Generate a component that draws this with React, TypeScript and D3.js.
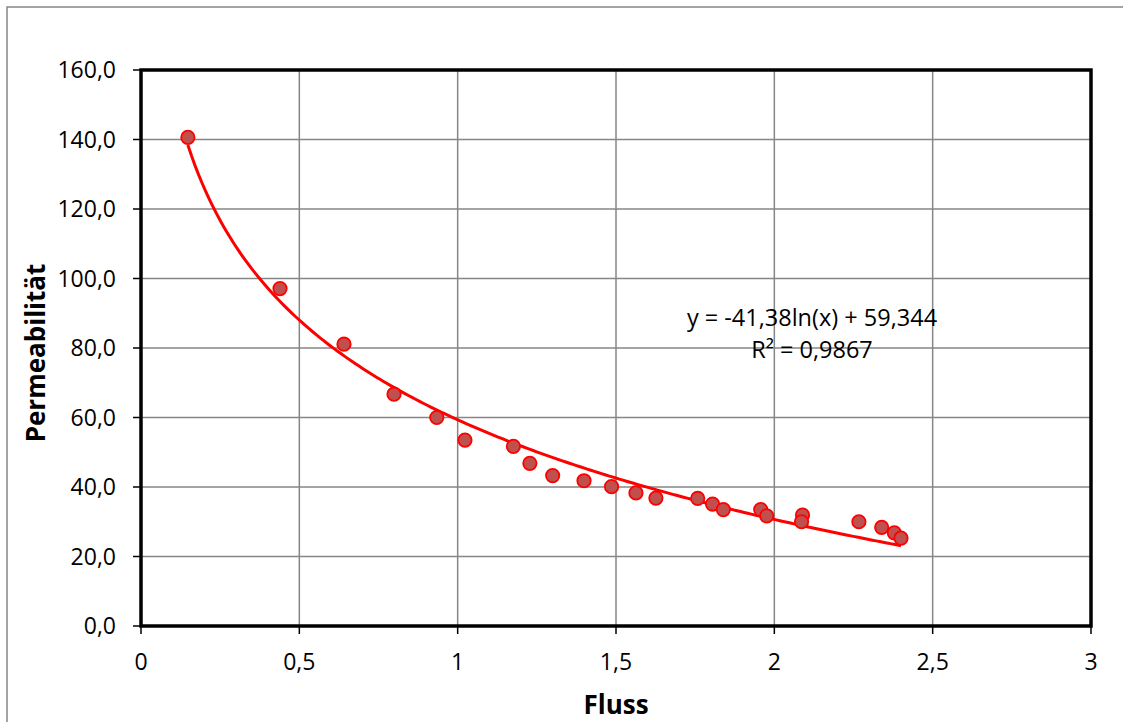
import React from 'react';
import { scaleLinear, line, range, format } from 'd3';

// Fluss (x) and Permeabilität (y) measurements
const fluss = [
  0.148, 0.439, 0.641, 0.799, 0.934, 1.023, 1.176, 1.228, 1.3, 1.399, 1.486, 1.563,
  1.626, 1.758, 1.805, 1.839, 1.957, 1.976, 2.089, 2.086, 2.267, 2.339, 2.379, 2.4
];
const permeabilitaet = [
  140.6, 97.1, 81.1, 66.7, 60.0, 53.5, 51.7, 46.8, 43.3, 41.8, 40.1, 38.3,
  36.8, 36.7, 35.1, 33.5, 33.5, 31.7, 31.9, 30.0, 30.0, 28.4, 26.8, 25.3
];

// logarithmic trend: y = a*ln(x) + b
const trendA = -41.38;
const trendB = 59.344;
const trendLabel = 'y = -41,38ln(x) + 59,344';
const r2Label = 'R² = 0,9867';

const xTicks = [0, 0.5, 1, 1.5, 2, 2.5, 3];
const yTicks = [0, 20, 40, 60, 80, 100, 120, 140, 160];

const W = 1123;
const H = 722;
const FONT = '"Open Sans", "Liberation Sans", sans-serif';

const App = () => {
  const left = 141, right = 1091, top = 70, bottom = 626;

  const x = scaleLinear().domain([0, 3]).range([left, right]);
  const y = scaleLinear().domain([0, 160]).range([bottom, top]);

  const fmtX = (v: number) => format('~g')(v).replace('.', ',');
  const fmtY = (v: number) => format('.1f')(v).replace('.', ',');

  const xMin = Math.min(...fluss);
  const xMax = Math.max(...fluss);
  const trendPts = range(0, 201).map(i => xMin + ((xMax - xMin) * i) / 200);
  const trendPath = line<number>()
    .x(d => x(d))
    .y(d => y(trendA * Math.log(d) + trendB))(trendPts);

  return (
    <svg
      width={W}
      height={H}
      style={{ position: 'absolute', left: 0, top: 0, background: '#fff' }}
      fontFamily={FONT}
    >
      <rect x={7} y={7} width={W + 10} height={H + 10} fill="#fff" stroke="#868686" strokeWidth={1.5} />

      {/* grid */}
      {yTicks.map(t => (
        <line key={'gy' + t} x1={left} x2={right} y1={y(t)} y2={y(t)} stroke="#868686" strokeWidth={1.5} />
      ))}
      {xTicks.map(t => (
        <line key={'gx' + t} x1={x(t)} x2={x(t)} y1={top} y2={bottom} stroke="#868686" strokeWidth={1.5} />
      ))}

      {/* ticks */}
      {yTicks.map(t => (
        <line key={'ty' + t} x1={left - 8} x2={left} y1={y(t)} y2={y(t)} stroke="#000" strokeWidth={1.5} />
      ))}
      {xTicks.map(t => (
        <line key={'tx' + t} x1={x(t)} x2={x(t)} y1={bottom} y2={bottom + 8} stroke="#000" strokeWidth={1.5} />
      ))}

      {/* plot frame */}
      <rect x={left} y={top} width={right - left} height={bottom - top} fill="none" stroke="#000" strokeWidth={3.5} />

      {/* tick labels */}
      {yTicks.map(t => (
        <text key={'ly' + t} x={116} y={y(t)} dy="0.36em" textAnchor="end" fontSize={23} fill="#000">
          {fmtY(t)}
        </text>
      ))}
      {xTicks.map(t => (
        <text key={'lx' + t} x={x(t)} y={670} textAnchor="middle" fontSize={23} fill="#000">
          {fmtX(t)}
        </text>
      ))}

      {/* trend line */}
      <path d={trendPath || ''} fill="none" stroke="#ff0000" strokeWidth={3} />

      {/* points */}
      {fluss.map((f, i) => (
        <circle key={'p' + i} cx={x(f)} cy={y(permeabilitaet[i])} r={6.7} fill="#c0504d" stroke="#ff0000" strokeWidth={1.8} />
      ))}

      {/* equation */}
      <text x={812} y={326} textAnchor="middle" fontSize={23.5} fill="#000">{trendLabel}</text>
      <text x={812} y={358} textAnchor="middle" fontSize={23.5} fill="#000">{r2Label}</text>

      {/* axis titles */}
      <text x={(left + right) / 2} y={714} textAnchor="middle" fontSize={26} fontWeight="bold" fill="#000">
        Fluss
      </text>
      <text
        transform={`translate(45, ${(top + bottom) / 2 + 5}) rotate(-90)`}
        textAnchor="middle"
        fontSize={26}
        fontWeight="bold"
        fill="#000"
      >
        Permeabilität
      </text>
    </svg>
  );
};

export default App;
